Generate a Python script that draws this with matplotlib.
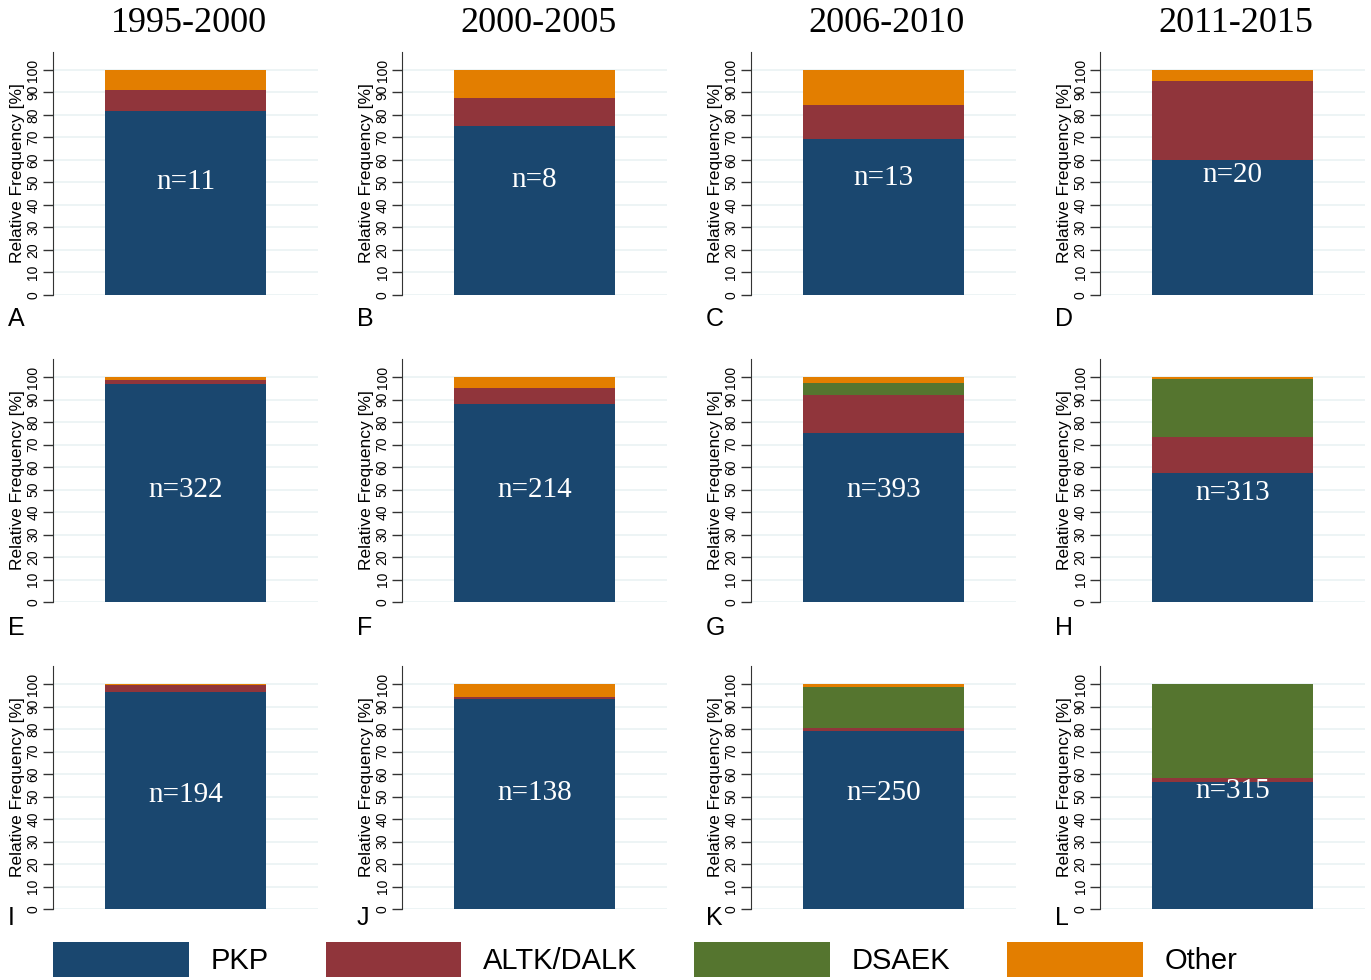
import matplotlib
matplotlib.use("Agg")
import matplotlib.pyplot as plt
from matplotlib.patches import Patch

# column headers and panel tags
periods = ["1995-2000", "2000-2005", "2006-2010", "2011-2015"]
panel_letters = ["A", "B", "C", "D", "E", "F", "G", "H", "I", "J", "K", "L"]
n_counts = [11, 8, 13, 20, 322, 214, 393, 313, 194, 138, 250, 315]

# relative frequency [%] per panel (row-major, A..L)
pkp = [81.8, 75.0, 69.2, 60.0, 96.9, 88.0, 75.0, 57.5, 96.4, 93.5, 79.2, 56.5]
altk = [9.1, 12.5, 15.4, 35.0, 1.8, 7.1, 17.0, 15.8, 3.1, 0.7, 1.2, 1.8]
dsaek = [0.0, 0.0, 0.0, 0.0, 0.0, 0.0, 5.5, 26.0, 0.0, 0.0, 18.4, 41.7]
other = [9.1, 12.5, 15.4, 5.0, 1.3, 4.9, 2.5, 0.7, 0.5, 5.8, 1.2, 0.0]

series_names = ["PKP", "ALTK/DALK", "DSAEK", "Other"]
series_values = [pkp, altk, dsaek, other]
colors = ["#1a476f", "#90353b", "#55752f", "#e37e00"]
yticks = [0, 10, 20, 30, 40, 50, 60, 70, 80, 90, 100]

W, H = 1371, 980
fig = plt.figure(figsize=(W / 100, H / 100), dpi=100)

col_left = [53, 402, 751, 1100]
row_zero = [295, 602, 909]
ax_w, ax_h = 265, 243
letter_y = [319, 628, 918]
label_y = [50.2, 51.1, 52.0, 53.3, 49.8, 49.8, 49.8, 48.4, 50.7, 51.6, 51.6, 52.4]

for i in range(12):
    r, c = divmod(i, 4)
    ax = fig.add_axes([col_left[c] / W, 1 - row_zero[r] / H, ax_w / W, ax_h / H])
    bottom = 0.0
    for vals, col in zip(series_values, colors):
        ax.bar([0], [vals[i]], bottom=bottom, width=0.604, color=col, zorder=2)
        bottom += vals[i]
    ax.set_xlim(-0.5, 0.5)
    ax.set_ylim(0, 108)
    ax.set_xticks([])
    ax.set_yticks(yticks)
    ax.set_yticklabels([str(t) for t in yticks], rotation=90, va="center",
                       fontsize=10, family="Liberation Sans")
    ax.tick_params(axis="y", length=7, width=1, pad=2, color="#333333")
    ax.grid(axis="y", color="#eaf2f3", linewidth=1.2, zorder=0)
    for s in ["top", "right", "bottom"]:
        ax.spines[s].set_visible(False)
    ax.spines["left"].set_color("#333333")
    ax.set_ylabel("Relative Frequency [%]", fontsize=12.5, family="Liberation Sans",
                  labelpad=1)
    ax.text(0, label_y[i], f"n={n_counts[i]}", color="white", ha="center",
            va="center", fontsize=21, family="Liberation Serif", zorder=3)
    fig.text((col_left[c] - 45) / W, 1 - letter_y[r] / H, panel_letters[i],
             fontsize=18, family="Liberation Sans", va="center")

for c, p in enumerate(periods):
    fig.text((col_left[c] + 136) / W, 1 - 23 / H, p, ha="center", va="center",
             fontsize=26, family="Liberation Serif")

handles = [Patch(facecolor=col, edgecolor="none") for col in colors]
fig.legend(handles, series_names, loc="upper left", ncol=4, frameon=False,
           bbox_to_anchor=(53 / W, 1 - 942 / H), borderpad=0, borderaxespad=0,
           handlelength=4.65, handleheight=1.45, handletextpad=0.75,
           columnspacing=1.95, prop={"family": "Liberation Sans", "size": 21})

fig.savefig("out.png", dpi=100)
